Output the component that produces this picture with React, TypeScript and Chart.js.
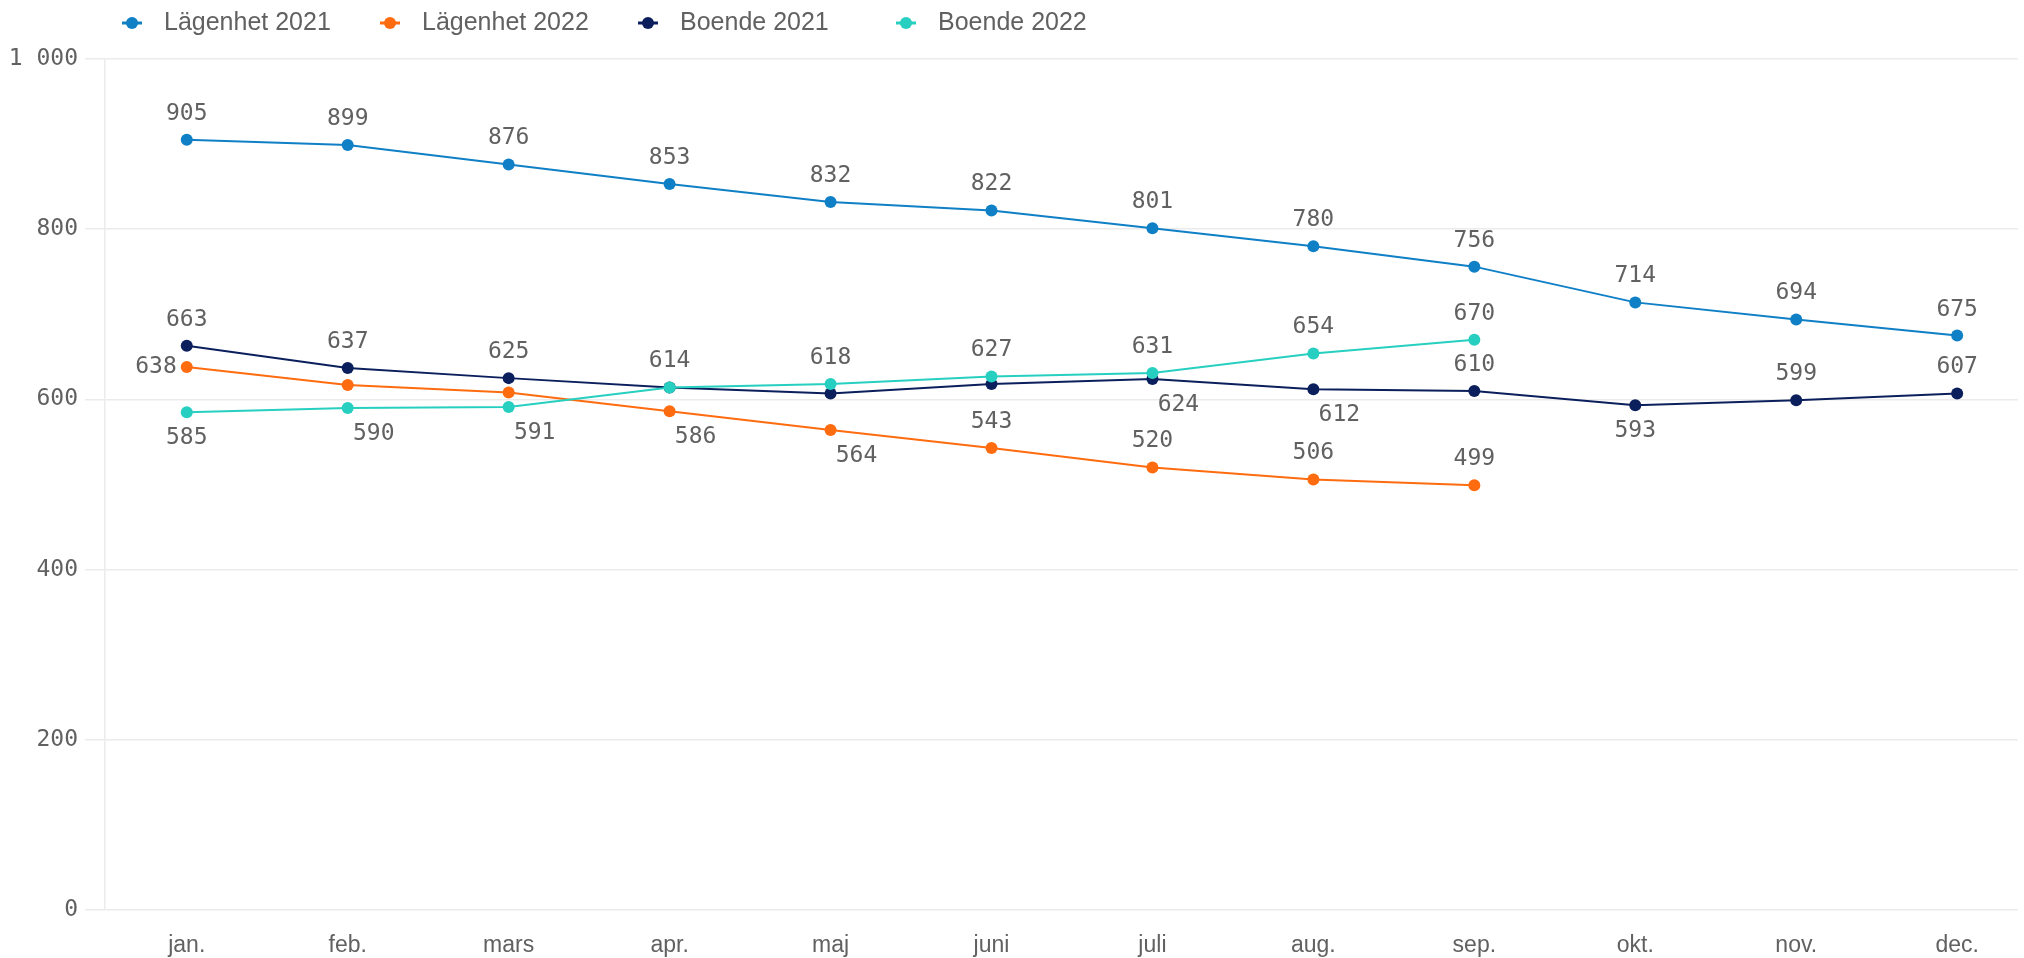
import React, { useEffect, useRef } from "react";
import { Chart, registerables } from "chart.js";

Chart.register(...registerables);

const months = ["jan.", "feb.", "mars", "apr.", "maj", "juni", "juli", "aug.", "sep.", "okt.", "nov.", "dec."];
const seriesNames = ["Lägenhet 2021", "Lägenhet 2022", "Boende 2021", "Boende 2022"];
const lagenhet2021 = [905, 899, 876, 853, 832, 822, 801, 780, 756, 714, 694, 675];
const lagenhet2022 = [638, 617, 608, 586, 564, 543, 520, 506, 499];
const boende2021 = [663, 637, 625, 614, 607, 618, 624, 612, 610, 593, 599, 607];
const boende2022 = [585, 590, 591, 614, 618, 627, 631, 654, 670];
const yTicks = [0, 200, 400, 600, 800, 1000];

// label placement codes: a = above, b = below, br = below-right, l = left, "" = hidden
const placeL2021 = ["a", "a", "a", "a", "a", "a", "a", "a", "a", "a", "a", "a"];
const placeL2022 = ["l", "", "", "br", "br", "a", "a", "a", "a"];
const placeB2021 = ["a", "a", "a", "", "", "", "br", "br", "a", "b", "a", "a"];
const placeB2022 = ["b", "br", "br", "a", "a", "a", "a", "a", "a"];

const colors = ["#0f7fc6", "#ff6b0f", "#0b1f5c", "#26cfc0"];
const TEXT = "#616161";
const GRID = "#ebebeb";
const MONO = "'DejaVu Sans Mono', monospace";
const SANS = "'Liberation Sans', Arial, sans-serif";

const fmt = (v: number) => String(v).replace(/\B(?=(\d{3})+(?!\d))/g, " ");

const labelPlugin = {
  id: "valueLabels",
  afterDatasetsDraw(chart: any) {
    const ctx = chart.ctx;
    ctx.save();
    ctx.font = `23px ${MONO}`;
    ctx.fillStyle = TEXT;
    ctx.textBaseline = "middle";
    chart.data.datasets.forEach((ds: any, i: number) => {
      const meta = chart.getDatasetMeta(i);
      const place: string[] = ds.placement;
      meta.data.forEach((pt: any, j: number) => {
        const p = place[j];
        if (!p) return;
        const txt = String(ds.data[j].y);
        let x = pt.x;
        let y = pt.y;
        ctx.textAlign = "center";
        if (p === "a") y -= 26;
        else if (p === "b") y += 26;
        else if (p === "br") {
          y += 26;
          x += 26;
        } else if (p === "l") {
          ctx.textAlign = "right";
          x -= 10;
        }
        ctx.fillText(txt, x, y);
      });
    });
    ctx.restore();
  },
};

const legendPlugin = {
  id: "topLegend",
  afterDraw(chart: any) {
    const ctx = chart.ctx;
    ctx.save();
    ctx.font = `25px ${SANS}`;
    ctx.textBaseline = "middle";
    const y = 23;
    chart.data.datasets.forEach((ds: any, i: number) => {
      const x = 132 + i * 258;
      ctx.strokeStyle = ds.borderColor;
      ctx.fillStyle = ds.borderColor;
      ctx.lineWidth = 3;
      ctx.beginPath();
      ctx.moveTo(x - 10, y);
      ctx.lineTo(x + 10, y);
      ctx.stroke();
      ctx.beginPath();
      ctx.arc(x, y, 6, 0, Math.PI * 2);
      ctx.fill();
      ctx.fillStyle = TEXT;
      ctx.textAlign = "left";
      ctx.fillText(ds.label, x + 32, y);
    });
    ctx.restore();
  },
};

export default function App() {
  const ref = useRef<HTMLCanvasElement | null>(null);
  useEffect(() => {
    document.body.style.margin = "0";
    const toPts = (arr: number[]) => arr.map((v, i) => ({ x: i, y: v }));
    const all = [lagenhet2021, lagenhet2022, boende2021, boende2022];
    const places = [placeL2021, placeL2022, placeB2021, placeB2022];
    const orders = [3, 2, 1, 0];
    const chart = new Chart(ref.current as HTMLCanvasElement, {
      type: "line",
      data: {
        datasets: all.map((arr, i) => ({
          label: seriesNames[i],
          data: toPts(arr),
          borderColor: colors[i],
          backgroundColor: colors[i],
          pointBackgroundColor: colors[i],
          pointBorderColor: colors[i],
          pointRadius: 6,
          pointBorderWidth: 0,
          borderWidth: 2,
          tension: 0,
          clip: false,
          order: orders[i],
          placement: places[i],
        })) as any,
      },
      options: {
        responsive: false,
        animation: false,
        layout: { padding: { top: 59, left: 0, right: 0, bottom: 0 } },
        plugins: {
          legend: { display: false },
          tooltip: { enabled: false },
        },
        scales: {
          x: {
            type: "linear",
            min: -0.508,
            max: 11.378,
            afterBuildTicks: (scale: any) => {
              scale.ticks = months.map((_, i) => ({ value: i }));
            },
            afterFit: (scale: any) => {
              scale.height = 48;
            },
            ticks: {
              callback: (v: any) => months[v as number] ?? "",
              autoSkip: false,
              maxRotation: 0,
              color: TEXT,
              padding: 22,
              font: { family: SANS, size: 23 },
            },
            grid: { display: false, drawTicks: false },
            border: { display: false },
          },
          y: {
            min: 0,
            max: 1000,
            afterBuildTicks: (scale: any) => {
              scale.ticks = yTicks.map((v) => ({ value: v }));
            },
            afterFit: (scale: any) => {
              scale.width = 105;
            },
            ticks: {
              callback: (v: any) => fmt(v as number),
              color: TEXT,
              padding: 7,
              font: { family: MONO, size: 23 },
            },
            grid: { color: GRID, tickLength: 20, lineWidth: 1.5 },
            border: { display: true, color: GRID, width: 1.5 },
          },
        },
      },
      plugins: [labelPlugin, legendPlugin],
    });
    return () => chart.destroy();
  }, []);
  return (
    <div style={{ width: 2024, height: 958 }}>
      <canvas ref={ref} width={2024} height={958} />
    </div>
  );
}
